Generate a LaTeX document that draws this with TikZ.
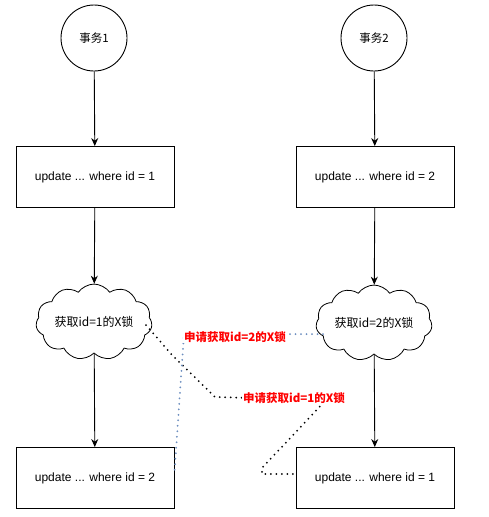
\documentclass[tikz,border=0pt]{standalone}
\usepackage{fontspec}
\setmainfont{Liberation Sans}
\newfontfamily\cjk{Noto Sans CJK SC}
\usetikzlibrary{shapes.symbols,arrows.meta,calc}
\definecolor{bluedot}{RGB}{108,142,191}
\tikzset{
  box/.style={draw,line width=0.9pt,minimum width=158pt,minimum height=61pt,inner sep=0pt,font=\fontsize{12}{14}\selectfont},
  txcircle/.style={draw,circle,line width=0.9pt,minimum size=66pt,inner sep=0pt,font=\cjk\fontsize{11.5}{13}\selectfont},
  lockcloud/.style={draw,cloud,cloud puffs=11,cloud puff arc=110,aspect=1.8,line width=0.8pt,minimum width=110pt,minimum height=62pt,inner sep=0pt,font=\cjk\fontsize{12}{14}\selectfont},
  flow/.style={line width=0.9pt,-{Stealth[length=8pt,width=7pt]}},
  reqlabel/.style={fill=white,inner sep=1pt,text=red,font=\cjk\bfseries\fontsize{11.5}{13}\selectfont},
  blackdots/.style={line cap=round,dash pattern=on 0pt off 5.5pt,line width=2pt,black},
  bluedots/.style={line cap=round,dash pattern=on 0pt off 5.5pt,line width=2pt,bluedot}
}
\begin{document}
\begin{tikzpicture}[x=1pt,y=-1pt]
\useasboundingbox (0,0) rectangle (488,517);
\node[txcircle] (c1) at (94,38) {事务1};
\node[txcircle] (c2) at (374,38) {事务2};
\node[box] (b1) at (95,177) {update ... where id = 1};
\node[box] (b2) at (375,177) {update ... where id = 2};
\node[lockcloud] (k1) at (94,322) {获取id=1的X锁};
\node[lockcloud] (k2) at (374,323) {获取id=2的X锁};
\node[box] (b3) at (95,478) {update ... where id = 2};
\node[box] (b4) at (375,478) {update ... where id = 1};

\draw[flow] (c1) -- (b1);
\draw[flow] (b1) -- (k1);
\draw[flow] (k1) -- (b3);
\draw[flow] (c2) -- (b2);
\draw[flow] (b2) -- (k2);
\draw[flow] (k2) -- (b4);

\coordinate (a1) at (146,325);
\coordinate (a2) at (172,355);
\coordinate (a3) at (215,397);
\coordinate (a4) at (326,400);
\coordinate (a5) at (262,468);
\coordinate (a6) at ($(b4.west)+(0,-4)$);
\draw[blackdots] (a1) -- (a2) -- (a3) -- (a4) -- (a5) -- (262,474) -- (a6);

\coordinate (d1) at (323,334);
\coordinate (d2) at (184,334);
\coordinate (d3) at ($(b3.east)+(0,-5)$);
\draw[bluedots] (d1) -- (d2) -- (d3);

\node[reqlabel] (l1) at (235,337) {申请获取id=2的X锁};
\node[reqlabel] (l2) at (294,398) {申请获取id=1的X锁};
\end{tikzpicture}
\end{document}
